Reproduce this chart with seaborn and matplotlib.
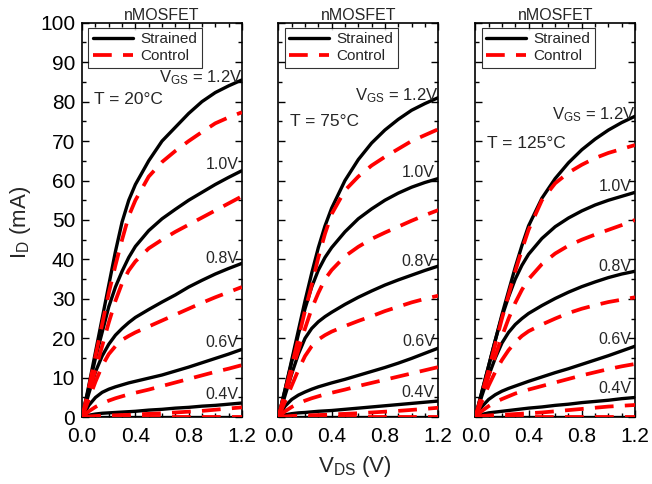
import numpy as np
import matplotlib
matplotlib.use("Agg")
import matplotlib.pyplot as plt
import seaborn as sns
from matplotlib.ticker import MultipleLocator

# drain voltage grid (V)
vds = [0, 0.05, 0.1, 0.15, 0.2, 0.25, 0.3, 0.35, 0.4, 0.5, 0.6, 0.7, 0.8, 0.9, 1.0, 1.1, 1.2]
vgs_labels = ["0.2", "0.4", "0.6", "0.8", "1.0", "1.2"]
temps = ["20", "75", "125"]

zero = [0] * 17

# I_D (mA), one row per VGS (0.2 ... 1.2 V)
strained_20 = [
    zero,
    [0, 0.5, 0.8, 1.0, 1.1, 1.2, 1.3, 1.4, 1.5, 1.8, 2.0, 2.3, 2.5, 2.8, 3.0, 3.3, 3.6],
    [0, 3, 5, 6.3, 7.1, 7.7, 8.2, 8.7, 9.1, 9.9, 10.7, 11.7, 12.7, 13.8, 14.9, 16, 17.2],
    [0, 6, 11.5, 15.5, 18.5, 20.8, 22.5, 24, 25.3, 27.3, 29.2, 31, 33, 34.7, 36.3, 37.7, 39],
    [0, 7.5, 15, 21.5, 28, 33, 37, 40.5, 43.3, 47.3, 50.3, 52.7, 55, 57, 59, 60.8, 62.5],
    [0, 8, 16.5, 25, 33.5, 42, 49.5, 55, 59, 65, 70, 73.5, 77, 80, 82.3, 84, 85.5],
]
control_20 = [
    zero,
    [0, 0.2, 0.3, 0.4, 0.45, 0.5, 0.55, 0.6, 0.7, 0.85, 1.0, 1.2, 1.4, 1.6, 1.9, 2.2, 2.5],
    [0, 1.5, 2.6, 3.5, 4.2, 4.8, 5.3, 5.8, 6.2, 7, 7.9, 8.8, 9.7, 10.6, 11.5, 12.3, 13.2],
    [0, 4.5, 9, 13, 16, 18, 19.6, 20.6, 21.5, 23, 24.5, 26, 27.5, 29, 30.4, 31.7, 33],
    [0, 6, 12, 18, 24, 29.5, 34, 37.2, 39.5, 42.8, 45, 47, 48.8, 50.6, 52.4, 54.2, 56],
    [0, 7.5, 15.5, 23.5, 31.5, 38.5, 45, 51, 55, 61, 64.7, 67.5, 70, 72.3, 74.5, 76, 77.3],
]
strained_75 = [
    zero,
    [0, 0.6, 0.9, 1.1, 1.2, 1.35, 1.5, 1.6, 1.7, 2.0, 2.3, 2.6, 2.9, 3.2, 3.5, 3.8, 4.1],
    [0, 2.8, 4.5, 5.6, 6.4, 7.1, 7.7, 8.2, 8.7, 9.6, 10.6, 11.6, 12.6, 13.7, 14.9, 16.2, 17.5],
    [0, 5.5, 11, 16, 20, 22.5, 24.2, 25.5, 26.6, 28.6, 30.4, 32, 33.5, 34.8, 36, 37.2, 38.3],
    [0, 7, 14, 21, 27.5, 33, 37.3, 40.5, 43, 47, 50.3, 52.8, 55, 56.8, 58.3, 59.5, 60.5],
    [0, 7, 14.5, 22, 29.5, 36.5, 43, 48.5, 53, 60, 65.3, 69.5, 72.8, 75.5, 77.8, 79.5, 81],
]
control_75 = [
    zero,
    [0, 0.2, 0.3, 0.4, 0.45, 0.5, 0.55, 0.6, 0.7, 0.85, 1.0, 1.2, 1.4, 1.6, 1.85, 2.1, 2.4],
    [0, 1.5, 2.6, 3.5, 4.2, 4.8, 5.3, 5.8, 6.2, 7, 7.9, 8.7, 9.5, 10.3, 11.1, 11.9, 12.7],
    [0, 4, 8, 12, 15.5, 18, 19.7, 20.8, 21.7, 23.1, 24.4, 25.6, 26.9, 28, 29.1, 30, 30.8],
    [0, 5.5, 11.5, 17, 22.5, 27.5, 31.5, 35, 37.3, 40.8, 43.2, 45.2, 46.8, 48.3, 49.8, 51.2, 52.5],
    [0, 6.5, 13, 20, 27, 33.5, 40.5, 46.5, 51.5, 57.5, 61, 63.8, 66, 68, 70, 71.5, 73],
]
strained_125 = [
    zero,
    [0, 0.7, 1.1, 1.3, 1.5, 1.7, 1.9, 2.1, 2.3, 2.6, 3.0, 3.3, 3.7, 4.0, 4.3, 4.7, 5.0],
    [0, 2.7, 4.5, 5.7, 6.6, 7.3, 7.9, 8.5, 9.1, 10.2, 11.3, 12.3, 13.4, 14.5, 15.6, 16.8, 18],
    [0, 5.5, 10.5, 15, 18.8, 21.5, 23.5, 25, 26.3, 28.3, 30.1, 31.7, 33.1, 34.3, 35.4, 36.3, 37],
    [0, 6.5, 13, 19.5, 25.5, 30.5, 35, 38.5, 41.3, 45.3, 48.3, 50.5, 52.3, 53.8, 55, 56, 57],
    [0, 6.5, 13, 19.5, 26, 32, 38, 43.5, 48.5, 55.5, 60.5, 64.5, 67.8, 70.5, 72.8, 74.7, 76.3],
]
control_125 = [
    zero,
    [0, 0.3, 0.45, 0.55, 0.6, 0.7, 0.8, 0.9, 1.0, 1.2, 1.5, 1.8, 2.1, 2.4, 2.7, 2.9, 3.1],
    [0, 1.6, 2.8, 3.8, 4.6, 5.3, 6, 6.5, 7, 7.9, 8.8, 9.7, 10.6, 11.4, 12.2, 12.9, 13.5],
    [0, 4, 8, 11.5, 14.5, 17, 19, 20.6, 21.8, 23.5, 25, 26.4, 27.5, 28.4, 29.2, 29.8, 30.4],
    [0, 5, 10.5, 15.5, 20.5, 25, 29, 32.3, 35, 38.8, 41.5, 43.5, 45, 46.3, 47.5, 48.7, 50],
    [0, 6, 12, 18.5, 25, 31, 37, 42.5, 47.5, 55, 59.3, 62, 64, 65.7, 67, 68, 69],
]

strained = [strained_20, strained_75, strained_125]
control = [control_20, control_75, control_125]

sns.set_theme(style="ticks")
plt.rcParams["font.family"] = ["Liberation Sans", "DejaVu Sans"]
plt.rcParams["mathtext.fontset"] = "custom"
plt.rcParams["mathtext.rm"] = "Liberation Sans"
plt.rcParams["mathtext.it"] = "Liberation Sans"

fig = plt.figure(figsize=(6.52, 4.84), dpi=100)
lefts = [0.126, 0.427, 0.729]
t_label_y = [80.5, 75, 69.5]
label_offset = [0, 2.2, 1.8, 1.2, 1.6, 0.5]

for i in range(3):
    ax = fig.add_axes([lefts[i], 0.138, 0.245, 0.815])
    for k in range(len(vgs_labels)):
        sns.lineplot(x=vds, y=strained[i][k], color="black", lw=2.4, ax=ax,
                     label="Strained" if k == 5 else None, zorder=3)
        sns.lineplot(x=vds, y=control[i][k], color="#ff0000", lw=2.7, ax=ax,
                     dashes=False, linestyle=(0, (5, 3)),
                     label="Control" if k == 5 else None, zorder=4)
        if k >= 1:
            end = strained[i][k][-1] + label_offset[k]
            if k == 5:
                ax.text(1.205, end, r"V$_{\mathrm{GS}}$ = 1.2V", ha="right", va="center", fontsize=12)
            else:
                ax.text(1.175, end, vgs_labels[k] + "V", ha="right", va="center", fontsize=11.5)

    ax.text(0.09, t_label_y[i], f"T = {temps[i]}°C", ha="left", va="center", fontsize=12.5)
    ax.set_xlim(0, 1.2)
    ax.set_ylim(0, 100)
    ax.xaxis.set_major_locator(MultipleLocator(0.4))
    ax.xaxis.set_minor_locator(MultipleLocator(0.1))
    ax.yaxis.set_major_locator(MultipleLocator(10))
    ax.yaxis.set_minor_locator(MultipleLocator(5))
    ax.tick_params(which="both", direction="in", top=True, right=True, width=1, colors="black")
    ax.tick_params(which="major", length=5, labelsize=15, pad=5)
    ax.tick_params(axis="x", which="major", pad=7)
    ax.tick_params(which="minor", length=3)
    if i > 0:
        ax.set_yticklabels([])
    for s in ax.spines.values():
        s.set_linewidth(1.2)
        s.set_color("black")
    ax.set_xlabel("")
    ax.set_ylabel("")
    ax.set_title("nMOSFET", fontsize=11.5, pad=2)
    leg = ax.legend(loc="upper left", bbox_to_anchor=(0.02, 0.995), fontsize=11,
                    handlelength=2.6, frameon=True, fancybox=False, borderpad=0.3,
                    labelspacing=0.2, handletextpad=0.5, borderaxespad=0.2)
    leg.get_frame().set_edgecolor("black")
    leg.get_frame().set_linewidth(0.8)

fig.text(0.032, 0.54, r"I$_\mathrm{D}$ (mA)", rotation=90, ha="center", va="center", fontsize=16)
fig.text(0.545, 0.036, r"V$_\mathrm{DS}$ (V)", ha="center", va="center", fontsize=16)

fig.savefig("out.png", dpi=100)
